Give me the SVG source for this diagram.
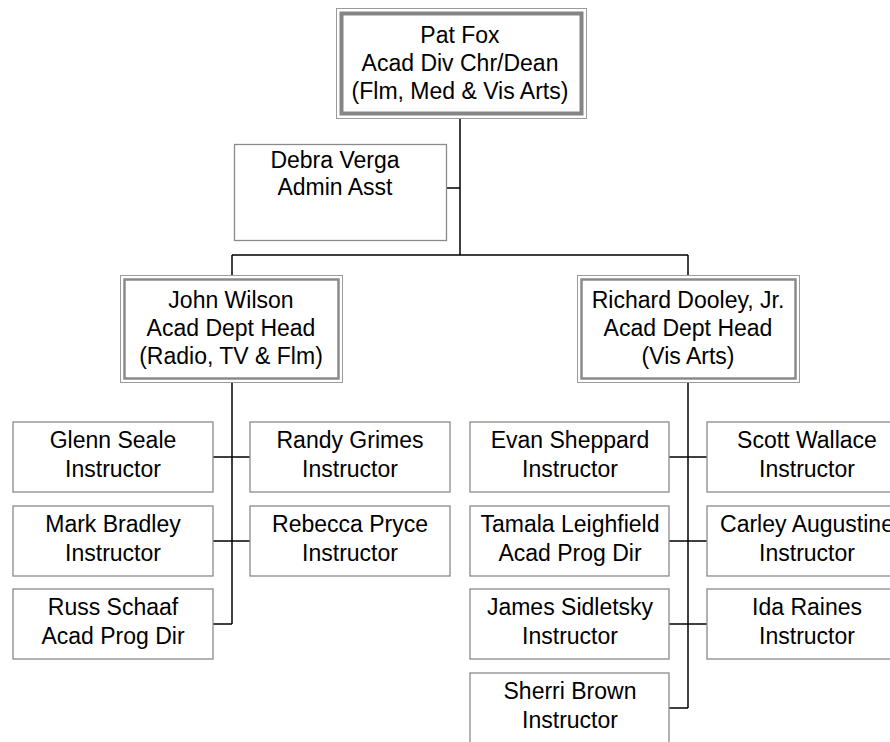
<svg xmlns="http://www.w3.org/2000/svg" width="890" height="742" viewBox="0 0 890 742">
<style>
text{font-family:"Liberation Sans",Arial,sans-serif;font-size:23px;fill:#000;text-anchor:middle}
.box{fill:#fff;stroke:#8a8a8a;stroke-width:1.3}
.outer{fill:#fff;stroke:#9a9a9a;stroke-width:1}
.inner{fill:none;stroke:#8a8a8a;stroke-width:2.5}
.innerTop{fill:none;stroke:#858585;stroke-width:4}
.conn{fill:none;stroke:#000;stroke-width:1.5}
</style>
<rect width="890" height="742" fill="#fff"/>
<g id="connectors">
<path class="conn" d="M460,119V255M447,188H460M232,255H688M232,255V275M688,255V275"/>
<path class="conn" d="M232,383V624M213,457H250M213,541H250M213,624H232"/>
<path class="conn" d="M688,383V708M669,457H707M669,541H707M669,624H707M669,708H688"/>
</g>
<g id="pat-fox">
<rect class="outer" x="336.5" y="8.5" width="250" height="110"/>
<rect class="innerTop" x="341.5" y="13.5" width="240" height="100"/>
<text x="460" y="43">Pat Fox</text>
<text x="460" y="71">Acad Div Chr/Dean</text>
<text x="460" y="99">(Flm, Med &amp; Vis Arts)</text>
</g>
<g id="debra-verga">
<rect class="box" x="234.5" y="144.5" width="212" height="96"/>
<text x="335" y="168">Debra Verga</text>
<text x="335" y="195">Admin Asst</text>
</g>
<g id="john-wilson">
<rect class="outer" x="120.5" y="275.5" width="222" height="107"/>
<rect class="inner" x="124.5" y="279.5" width="214" height="99"/>
<text x="231" y="308">John Wilson</text>
<text x="231" y="336">Acad Dept Head</text>
<text x="231" y="364">(Radio, TV &amp; Flm)</text>
</g>
<g id="richard-dooley">
<rect class="outer" x="577.5" y="275.5" width="222" height="107"/>
<rect class="inner" x="581.5" y="279.5" width="214" height="99"/>
<text x="688" y="308">Richard Dooley, Jr.</text>
<text x="688" y="336">Acad Dept Head</text>
<text x="688" y="364">(Vis Arts)</text>
</g>
<g id="glenn-seale">
<rect class="box" x="13" y="422" width="200" height="70"/>
<text x="113" y="448">Glenn Seale</text>
<text x="113" y="477">Instructor</text>
</g>
<g id="mark-bradley">
<rect class="box" x="13" y="506" width="200" height="70"/>
<text x="113" y="532">Mark Bradley</text>
<text x="113" y="561">Instructor</text>
</g>
<g id="russ-schaaf">
<rect class="box" x="13" y="589" width="200" height="70"/>
<text x="113" y="615">Russ Schaaf</text>
<text x="113" y="644">Acad Prog Dir</text>
</g>
<g id="randy-grimes">
<rect class="box" x="250" y="422" width="200" height="70"/>
<text x="350" y="448">Randy Grimes</text>
<text x="350" y="477">Instructor</text>
</g>
<g id="rebecca-pryce">
<rect class="box" x="250" y="506" width="200" height="70"/>
<text x="350" y="532">Rebecca Pryce</text>
<text x="350" y="561">Instructor</text>
</g>
<g id="evan-sheppard">
<rect class="box" x="470" y="422" width="199" height="70"/>
<text x="570" y="448">Evan Sheppard</text>
<text x="570" y="477">Instructor</text>
</g>
<g id="tamala-leighfield">
<rect class="box" x="470" y="506" width="199" height="70"/>
<text x="570" y="532">Tamala Leighfield</text>
<text x="570" y="561">Acad Prog Dir</text>
</g>
<g id="james-sidletsky">
<rect class="box" x="470" y="589" width="199" height="70"/>
<text x="570" y="615">James Sidletsky</text>
<text x="570" y="644">Instructor</text>
</g>
<g id="sherri-brown">
<rect class="box" x="470" y="673" width="199" height="70"/>
<text x="570" y="699">Sherri Brown</text>
<text x="570" y="728">Instructor</text>
</g>
<g id="scott-wallace">
<rect class="box" x="707" y="422" width="200" height="70"/>
<text x="807" y="448">Scott Wallace</text>
<text x="807" y="477">Instructor</text>
</g>
<g id="carley-augustine">
<rect class="box" x="707" y="506" width="200" height="70"/>
<text x="807" y="532">Carley Augustine</text>
<text x="807" y="561">Instructor</text>
</g>
<g id="ida-raines">
<rect class="box" x="707" y="589" width="200" height="70"/>
<text x="807" y="615">Ida Raines</text>
<text x="807" y="644">Instructor</text>
</g>
</svg>
